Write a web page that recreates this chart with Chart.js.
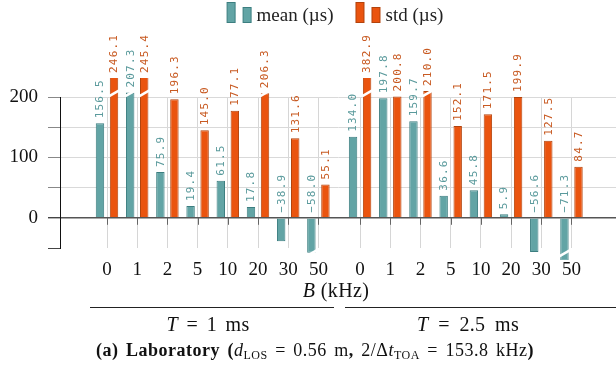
<!DOCTYPE html>
<html>
<head>
<meta charset="utf-8">
<script src="https://cdn.jsdelivr.net/npm/chart.js@4.4.1/dist/chart.umd.min.js"></script>
<style>
  html, body { margin: 0; padding: 0; background: #fff; overflow: hidden; }
  #wrap { width: 616px; height: 367px; position: relative; }
</style>
</head>
<body>
<div id="wrap"><canvas id="grafico" width="616" height="367"></canvas></div>
<script>
// valores
var categorias = ['0', '1', '2', '5', '10', '20', '30', '50'];
var grupos = ['T = 1 ms', 'T = 2.5 ms'];
var mean_1ms = [156.5, 207.3, 75.9, 19.4, 61.5, 17.8, -38.9, -58.0];
var std_1ms = [246.1, 245.4, 196.3, 145.0, 177.1, 206.3, 131.6, 55.1];
var mean_25ms = [134.0, 197.8, 159.7, 36.6, 45.8, 5.9, -56.6, -71.3];
var std_25ms = [382.9, 200.8, 210.0, 152.1, 171.5, 199.9, 127.5, 84.7];
var ticks_y = [0, 100, 200];

const SALTO = 8.38;   // inicio do segundo grupo no eixo x
const COR_MEAN = '#62a4a5', BORDA_MEAN = '#3c7e80', TXT_MEAN = '#5a9a9c';
const COR_STD = '#ea540f', BORDA_STD = '#b3430c', TXT_STD = '#c85a22';

function pontos(a, b) {
    var out = [];
    a.forEach((v, i) => out.push({ x: i, y: v }));
    b.forEach((v, i) => out.push({ x: SALTO + i, y: v }));
    return out;
}
var posicoes = categorias.map((c, i) => i).concat(categorias.map((c, i) => SALTO + i));
var nomes = categorias.concat(categorias);

Chart.defaults.font.family = '"Liberation Serif", serif';
Chart.defaults.color = '#111';

function linhaBranca(ctx, bar, y, inc) {
    ctx.save();
    ctx.strokeStyle = '#fff';
    ctx.lineWidth = 2.5;
    ctx.beginPath();
    ctx.moveTo(bar.x - bar.width / 2 - 1, y + inc);
    ctx.lineTo(bar.x + bar.width / 2 + 1, y - inc);
    ctx.stroke();
    ctx.restore();
}

// texto com partes em fontes diferentes; a sobra vai para os espacos
function rico(ctx, partes, cx, by, alvo, ls) {
    ls = ls || 0;
    var itens = [];
    partes.forEach(p => {
        p[0].split(/( )/).forEach(t => {
            if (t !== '') itens.push({ t: t, f: p[1], dy: p[2] || 0 });
        });
    });
    ctx.letterSpacing = ls + 'px';
    let w = 0, ns = 0, esp = 0;
    itens.forEach(it => {
        ctx.font = it.f;
        if (it.t === ' ') { ns++; esp += ctx.measureText(' ').width; }
        else { it.w = ctx.measureText(it.t).width; w += it.w; }
    });
    const gap = ns ? (alvo ? (alvo - w) / ns : esp / ns) : 0;
    let px = cx - (w + gap * ns) / 2;
    itens.forEach(it => {
        if (it.t === ' ') { px += gap; return; }
        ctx.font = it.f;
        ctx.fillText(it.t, px, by + it.dy);
        px += it.w;
    });
    ctx.letterSpacing = '0px';
}

const rotulos = {
    id: 'rotulos',
    afterDatasetsDraw(chart) {
        const ctx = chart.ctx, ys = chart.scales.y;
        const topo = ys.getPixelForValue(ys.max) - 19;
        chart.data.datasets.forEach((ds, d) => {
            const meta = chart.getDatasetMeta(d);
            meta.data.forEach((bar, i) => {
                const v = ds.data[i].y;
                if (v > 203) linhaBranca(ctx, bar, ys.getPixelForValue(206), 3);
                if (v < -57) linhaBranca(ctx, bar, ys.getPixelForValue(-59), 3);
                let base;
                if (v >= 0) base = Math.max(ys.getPixelForValue(v), topo) - 5;
                else base = ys.getPixelForValue(0) - 5;
                const txt = (v < 0 ? '\u2212' : '') + Math.abs(v).toFixed(1);
                ctx.save();
                ctx.translate(bar.x, base);
                ctx.rotate(-Math.PI / 2);
                ctx.font = '11px "DejaVu Sans Mono", monospace';
                ctx.letterSpacing = '1.2px';
                ctx.fillStyle = d === 0 ? TXT_MEAN : TXT_STD;
                ctx.textAlign = 'left';
                ctx.textBaseline = 'middle';
                ctx.fillText(txt, 0, 0.5);
                ctx.restore();
            });
        });
    },
    afterDraw(chart) {
        const ctx = chart.ctx, xs = chart.scales.x, ys = chart.scales.y;
        const y0 = ys.getPixelForValue(0);
        ctx.save();
        // marcas no eixo do zero
        ctx.strokeStyle = '#666';
        ctx.lineWidth = 1;
        posicoes.forEach(p => {
            const px = Math.round(xs.getPixelForValue(p)) + 0.5;
            ctx.beginPath(); ctx.moveTo(px, y0); ctx.lineTo(px, y0 + 7); ctx.stroke();
        });

        // legenda
        ctx.font = '19px "Liberation Serif", serif';
        ctx.textBaseline = 'alphabetic';
        const t1 = chart.data.datasets[0].label, t2 = chart.data.datasets[1].label;
        const w1 = ctx.measureText(t1).width, w2 = ctx.measureText(t2).width;
        const total = 24 + 6 + w1 + 22 + 24 + 6 + w2;
        let x = 335 - total / 2;
        function icone(x, cor, borda) {
            ctx.fillStyle = cor; ctx.strokeStyle = borda; ctx.lineWidth = 1;
            ctx.fillRect(x + 0.5, 2.5, 8, 20); ctx.strokeRect(x + 0.5, 2.5, 8, 20);
            ctx.fillRect(x + 16.5, 7.5, 8, 15); ctx.strokeRect(x + 16.5, 7.5, 8, 15);
        }
        icone(x, COR_MEAN, BORDA_MEAN);
        ctx.fillStyle = '#222';
        ctx.fillText(t1, x + 30, 21);
        x += 30 + w1 + 22;
        icone(x, COR_STD, BORDA_STD);
        ctx.fillStyle = '#222';
        ctx.fillText(t2, x + 30, 21);

        ctx.fillStyle = '#111';
        const R = '20px "Liberation Serif", serif', I = 'italic 20px "Liberation Serif", serif';
        rico(ctx, [['B', I], [' (kHz)', R]], 336, 297, null, 0.4);

        ctx.strokeStyle = '#222';
        ctx.lineWidth = 1;
        ctx.beginPath(); ctx.moveTo(90, 307.5); ctx.lineTo(334, 307.5); ctx.stroke();
        ctx.beginPath(); ctx.moveTo(345, 307.5); ctx.lineTo(616, 307.5); ctx.stroke();

        const g1 = grupos[0].split(' '), g2 = grupos[1].split(' ');
        rico(ctx, [[g1[0], I], [' = ' + g1[2] + ' ' + g1[3], R]], 208, 331, 83, 0.3);
        rico(ctx, [[g2[0], I], [' = ' + g2[2] + ' ' + g2[3], R]], 468, 331, 102, 0.3);

        const B = 'bold 18px "Liberation Serif", serif', N = '18px "Liberation Serif", serif',
              NI = 'italic 18px "Liberation Serif", serif', S = '12px "Liberation Serif", serif';
        rico(ctx, [['(a) Laboratory (', B], ['d', NI], ['LOS', S, 3], [' = 0.56 m', N], [', ', B],
              ['2/\u0394', N], ['t', NI], ['TOA', S, 3], [' = 153.8 kHz', N], [')', B]], 315, 356, 438, 0.5);
        ctx.restore();
    }
};

var grafico = new Chart(document.getElementById('grafico'), {
    type: 'bar',
    data: {
        datasets: [{
            label: 'mean (\u00b5s)',
            data: pontos(mean_1ms, mean_25ms),
            backgroundColor: COR_MEAN,
            borderColor: BORDA_MEAN,
            borderWidth: 1,
            clip: { left: false, top: 19, right: false, bottom: 12 }
        }, {
            label: 'std (\u00b5s)',
            data: pontos(std_1ms, std_25ms),
            backgroundColor: COR_STD,
            borderColor: BORDA_STD,
            borderWidth: 1,
            clip: { left: false, top: 19, right: false, bottom: 12 }
        }]
    },
    options: {
        responsive: false,
        animation: false,
        devicePixelRatio: 1,
        layout: { padding: { top: 97, left: 0, right: 0, bottom: 0 } },
        categoryPercentage: 0.93,
        barPercentage: 0.6,
        plugins: { legend: { display: false }, tooltip: { enabled: false } },
        scales: {
            x: {
                type: 'linear',
                offset: false,
                min: -47 / 30.2,
                max: -47 / 30.2 + 556 / 30.2,
                afterBuildTicks: s => { s.ticks = posicoes.map(v => ({ value: v })); },
                afterFit: s => { s.height = 119; },
                ticks: {
                    autoSkip: false,
                    maxRotation: 0,
                    padding: 11,
                    color: '#111',
                    font: { size: 19 },
                    callback: (v, i) => nomes[i]
                },
                grid: { offset: false, color: '#d6d6d6', drawTicks: false },
                border: { display: false }
            },
            y: {
                min: -50,
                max: 200,
                afterFit: s => { s.width = 60; },
                afterBuildTicks: s => { s.ticks = [-50, 0, 50, 100, 150, 200].map(v => ({ value: v })); },
                ticks: {
                    padding: 10,
                    color: '#111',
                    font: { size: 19 },
                    callback: v => ticks_y.includes(v) ? String(v) : ''
                },
                grid: {
                    color: c => c.tick && c.tick.value === 0 ? '#555' : (c.tick && c.tick.value === -50 ? 'rgba(0,0,0,0)' : '#d9d9d9'),
                    lineWidth: c => c.tick && c.tick.value === 0 ? 1.4 : 1,
                    tickColor: c => c.tick && (c.tick.value === 0 || c.tick.value === -50) ? '#444' : '#888',
                    tickLength: 12
                },
                border: { color: '#111', width: 1 }
            }
        }
    },
    plugins: [rotulos]
});
</script>
</body>
</html>
